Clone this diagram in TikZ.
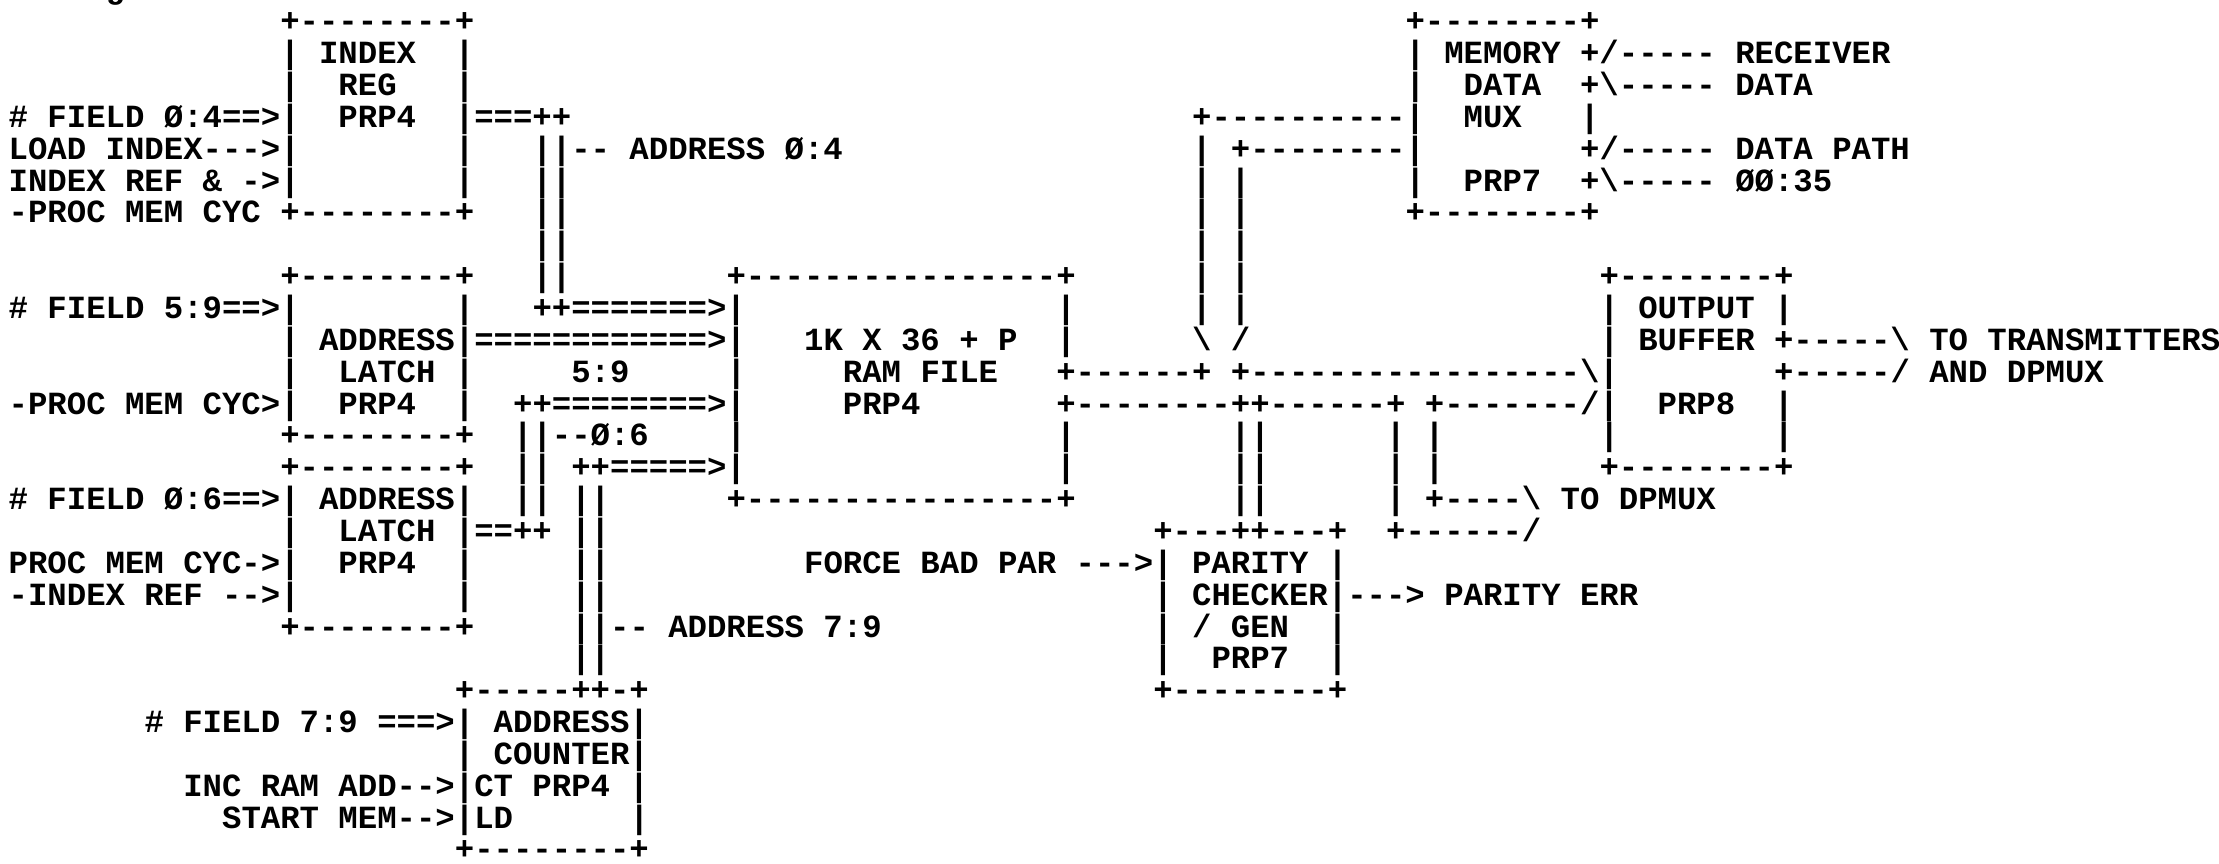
\documentclass[tikz,border=0pt]{standalone}
\usepackage{fontspec}
\setmonofont{Liberation Mono}
\tikzset{
  lp/.style={anchor=base west, inner sep=0pt, outer sep=0pt, text=black,
    font=\ttfamily\bfseries\fontsize{32.33pt}{38pt}\selectfont}
}
% row, column, text
\newcommand{\lprow}[3]{\node[lp] (r#1c#2) at ({8.7+19.4*#2},{-31.85*#1}) {#3};}
\begin{document}
\begin{tikzpicture}[x=1pt,y=1pt]
\fill[white] (0,0) rectangle (2219,-863);
\useasboundingbox (0,0) rectangle (2219,-863);
\node[lp] (title) at (8.7,2) {IN~Figure~6.4.6};
\lprow{1}{14}{+--------+}
\lprow{1}{72}{+--------+}
\lprow{2}{14}{|~INDEX~~|}
\lprow{2}{72}{|~MEMORY~+/-----~RECEIVER}
\lprow{3}{14}{|~~REG~~~|}
\lprow{3}{72}{|~~DATA~~+\textbackslash-----~DATA}
\lprow{4}{0}{\#~FIELD~Ø:4==>|~~PRP4~~|===++}
\lprow{4}{61}{+----------|~~MUX~~~|}
\lprow{5}{0}{LOAD~INDEX--->|}
\lprow{5}{23}{|}
\lprow{5}{27}{||--~ADDRESS~Ø:4}
\lprow{5}{61}{|~+--------|}
\lprow{5}{81}{+/-----~DATA~PATH}
\lprow{6}{0}{INDEX~REF~\&~->|}
\lprow{6}{23}{|}
\lprow{6}{27}{||}
\lprow{6}{61}{|~|}
\lprow{6}{72}{|~~PRP7~~+\textbackslash-----~ØØ:35}
\lprow{7}{0}{-PROC~MEM~CYC~+--------+}
\lprow{7}{27}{||}
\lprow{7}{61}{|~|}
\lprow{7}{72}{+--------+}
\lprow{8}{27}{||}
\lprow{8}{61}{|~|}
\lprow{9}{14}{+--------+}
\lprow{9}{27}{||}
\lprow{9}{37}{+----------------+}
\lprow{9}{61}{|~|}
\lprow{9}{82}{+--------+}
\lprow{10}{0}{\#~FIELD~5:9==>|}
\lprow{10}{23}{|}
\lprow{10}{27}{++=======>|}
\lprow{10}{54}{|}
\lprow{10}{61}{|~|}
\lprow{10}{82}{|~OUTPUT~|}
\lprow{11}{14}{|~ADDRESS|============>|}
\lprow{11}{41}{1K~X~36~+~P}
\lprow{11}{54}{|}
\lprow{11}{61}{\textbackslash~/}
\lprow{11}{82}{|~BUFFER~+-----\textbackslash~TO~TRANSMITTERS}
\lprow{12}{14}{|~~LATCH~|}
\lprow{12}{29}{5:9}
\lprow{12}{37}{|}
\lprow{12}{43}{RAM~FILE}
\lprow{12}{54}{+------+~+-----------------\textbackslash|}
\lprow{12}{91}{+-----/~AND~DPMUX}
\lprow{13}{0}{-PROC~MEM~CYC>|~~PRP4~~|}
\lprow{13}{26}{++========>|}
\lprow{13}{43}{PRP4}
\lprow{13}{54}{+--------++------+~+-------/|~~PRP8~~|}
\lprow{14}{14}{+--------+}
\lprow{14}{26}{||--Ø:6}
\lprow{14}{37}{|}
\lprow{14}{54}{|}
\lprow{14}{63}{||}
\lprow{14}{71}{|~|}
\lprow{14}{82}{|}
\lprow{14}{91}{|}
\lprow{15}{14}{+--------+}
\lprow{15}{26}{||}
\lprow{15}{29}{++=====>|}
\lprow{15}{54}{|}
\lprow{15}{63}{||}
\lprow{15}{71}{|~|}
\lprow{15}{82}{+--------+}
\lprow{16}{0}{\#~FIELD~Ø:6==>|~ADDRESS|}
\lprow{16}{26}{||~||}
\lprow{16}{37}{+----------------+}
\lprow{16}{63}{||}
\lprow{16}{71}{|~+----\textbackslash~TO~DPMUX}
\lprow{17}{14}{|~~LATCH~|==++~||}
\lprow{17}{59}{+---++---+}
\lprow{17}{71}{+------/}
\lprow{18}{0}{PROC~MEM~CYC->|~~PRP4~~|}
\lprow{18}{29}{||}
\lprow{18}{41}{FORCE~BAD~PAR~--->|~PARITY~|}
\lprow{19}{0}{-INDEX~REF~-->|}
\lprow{19}{23}{|}
\lprow{19}{29}{||}
\lprow{19}{59}{|~CHECKER|--->~PARITY~ERR}
\lprow{20}{14}{+--------+}
\lprow{20}{29}{||--~ADDRESS~7:9}
\lprow{20}{59}{|~/~GEN~~|}
\lprow{21}{29}{||}
\lprow{21}{59}{|~~PRP7~~|}
\lprow{22}{23}{+-----++-+}
\lprow{22}{59}{+--------+}
\lprow{23}{7}{\#~FIELD~7:9~===>|~ADDRESS|}
\lprow{24}{23}{|~COUNTER|}
\lprow{25}{9}{INC~RAM~ADD-->|CT~PRP4~|}
\lprow{26}{11}{START~MEM-->|LD}
\lprow{26}{32}{|}
\lprow{27}{23}{+--------+}
\end{tikzpicture}
\end{document}
